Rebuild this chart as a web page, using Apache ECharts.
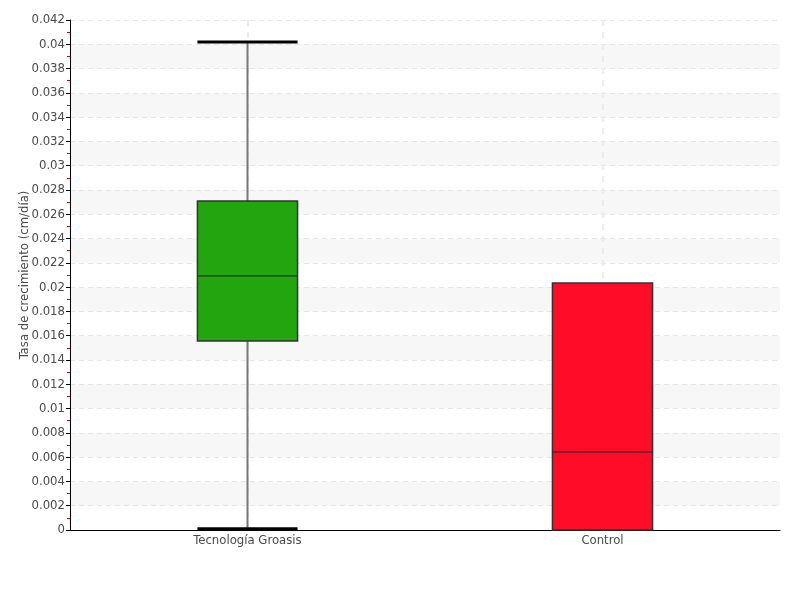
<!DOCTYPE html>
<html><head><meta charset="utf-8">
<script src="https://cdn.jsdelivr.net/npm/echarts@6/dist/echarts.min.js"></script>
<style>html,body{margin:0;padding:0;background:#fff}#c{width:800px;height:600px}</style>
</head><body><div id="c"></div>
<script>
const categories = ['Tecnología Groasis', 'Control'];
// [min, Q1, median, Q3, max]
const boxGroasis = [0.0001, 0.01556, 0.02092, 0.02709, 0.04018];
const boxControl = [0, 0, 0.00642, 0.02034, 0.02034];
const yTicks = {min: 0, max: 0.042, interval: 0.002};
const yName = 'Tasa de crecimiento (cm/día)';

const boxColors = ['#22a50f', '#ff0c28'];
const FONT = "'DejaVu Sans Condensed','DejaVu Sans',sans-serif";

const boxes = [boxGroasis, boxControl];
const data = boxes.map((b, i) => [i].concat(b));

const chart = echarts.init(document.getElementById('c'));
chart.setOption({
  animation: false,
  grid: {left: 70, right: 20, top: 20, bottom: 70},
  xAxis: {
    type: 'category', data: categories, boundaryGap: true,
    axisLine: {lineStyle: {color: '#000', width: 1}},
    axisTick: {show: false},
    axisLabel: {color: '#4a4a4a', fontSize: 13, fontFamily: FONT, margin: 4},
    splitLine: {show: false}
  },
  yAxis: {
    type: 'value', min: yTicks.min, max: yTicks.max, interval: yTicks.interval,
    name: yName, nameLocation: 'middle', nameGap: 45, nameRotate: 90,
    nameMoveOverlap: false,
    nameTextStyle: {color: '#4a4a4a', fontSize: 13, fontFamily: FONT, verticalAlign: 'middle'},
    axisLine: {show: true, lineStyle: {color: '#000'}},
    axisTick: {show: true, length: 4, lineStyle: {color: '#000'}},
    minorTick: {show: true, splitNumber: 2, length: 3, lineStyle: {color: '#e00'}},
    axisLabel: {color: '#4a4a4a', fontSize: 13, fontFamily: FONT, margin: 5},
    splitLine: {show: true, lineStyle: {color: '#e6e6e6', type: [5, 4]}},
    splitArea: {show: true, areaStyle: {color: ['rgba(255,255,255,0)', '#f7f7f7']}}
  },
  series: [{
    type: 'custom',
    data: data,
    encode: {x: 0, y: [1, 2, 3, 4, 5]},
    z: 5,
    renderItem: function (params, api) {
      const idx = api.value(0);
      const bw = api.size([1, 0])[0] * 0.282;
      const half = bw / 2;
      const pMin = api.coord([idx, api.value(1)]);
      const pQ1 = api.coord([idx, api.value(2)]);
      const pMed = api.coord([idx, api.value(3)]);
      const pQ3 = api.coord([idx, api.value(4)]);
      const pMax = api.coord([idx, api.value(5)]);
      const cx = pQ1[0];
      const children = [];
      const wStyle = {stroke: '#777', lineWidth: 2};
      const capStyle = {stroke: '#000', lineWidth: 3};
      if (pMax[1] < pQ3[1] - 0.5) {
        children.push({type: 'line', shape: {x1: cx, y1: pQ3[1], x2: cx, y2: pMax[1]}, style: wStyle});
        children.push({type: 'line', shape: {x1: cx - half, y1: pMax[1], x2: cx + half, y2: pMax[1]}, style: capStyle});
      }
      if (pMin[1] > pQ1[1] + 0.5) {
        children.push({type: 'line', shape: {x1: cx, y1: pQ1[1], x2: cx, y2: pMin[1]}, style: wStyle});
        children.push({type: 'line', shape: {x1: cx - half, y1: pMin[1], x2: cx + half, y2: pMin[1]}, style: capStyle});
      }
      children.push({type: 'rect', shape: {x: cx - half, y: pQ3[1], width: bw, height: pQ1[1] - pQ3[1]},
        style: {fill: boxColors[idx], stroke: '#333', lineWidth: 1.5}});
      children.push({type: 'line', shape: {x1: cx - half, y1: pMed[1], x2: cx + half, y2: pMed[1]},
        style: {stroke: '#222', lineWidth: 1}});
      return {type: 'group', children: children};
    },
    markLine: {
      silent: true, symbol: 'none', z: 1,
      label: {show: false},
      lineStyle: {color: '#ececec', type: [6, 6], width: 2},
      data: categories.map(c => ({xAxis: c}))
    }
  }]
});
</script></body></html>
